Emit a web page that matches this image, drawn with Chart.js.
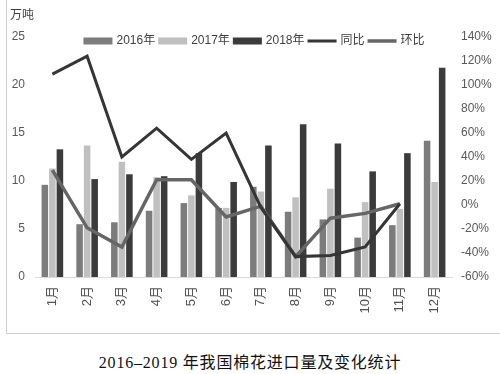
<!DOCTYPE html>
<html><head><meta charset="utf-8">
<script src="https://cdn.jsdelivr.net/npm/chart.js@4/dist/chart.umd.min.js"></script>
<style>
html,body{margin:0;padding:0;background:#fff;width:500px;height:374px;overflow:hidden;}
#wrap{position:relative;width:500px;height:374px;}
#frame{position:absolute;left:6px;top:-2px;width:500px;height:336px;border-left:1px solid #cfcfcf;border-bottom:1px solid #cfcfcf;box-sizing:border-box;}
#cv{position:absolute;left:0;top:0;}
#cap{position:absolute;left:0;top:349px;width:500px;text-align:center;font:16px "Liberation Serif","Noto Sans CJK SC";letter-spacing:0.8px;color:#111;}
</style></head>
<body><div id="wrap"><div id="frame"></div><canvas id="cv" width="500" height="340"></canvas><div id="cap">2016–2019 年我国棉花进口量及变化统计</div></div>
<script>
const categories = ['1月','2月','3月','4月','5月','6月','7月','8月','9月','10月','11月','12月'];
const imports2016 = [9.6,5.5,5.7,6.9,7.7,7.2,9.4,6.8,6.0,4.1,5.4,14.2];
const imports2017 = [11.3,13.7,12.0,10.4,8.5,7.2,8.9,8.3,9.2,7.8,7.1,9.9];
const imports2018 = [13.3,10.2,10.7,10.5,12.9,9.9,13.7,15.9,13.9,11.0,12.9,21.8];
const yoy = [109,124,40,64,38,60,-2,-43,-42,-35,1,null];
const mom = [29,-19,-35,21,21,-10,-1,-43,-11,-7,1,null];
const leftTicks = [0,5,10,15,20,25];
const rightTicks = [-60,-40,-20,0,20,40,60,80,100,120,140];
const unitLabel = '万吨';

const FONT = '"Liberation Sans","Noto Sans CJK SC",sans-serif';

const extras = {
  id:'extras',
  afterDraw(chart){
    const ctx = chart.ctx;
    ctx.save();
    ctx.font = '12px ' + FONT;
    ctx.fillStyle = '#404040';
    ctx.textBaseline = 'middle';
    ctx.textAlign = 'left';
    ctx.fillText(unitLabel, 10, 16);
    // legend
    const y = 41, boxW = 29, gapBox = 4, gapItem = 3;
    const ds = chart.data.datasets;
    let total = 0;
    ds.forEach(d => { total += boxW + gapBox + ctx.measureText(d.label).width + gapItem; });
    total -= gapItem;
    let x = 254 - total/2;
    ds.forEach(d => {
      if (d.type === 'line') {
        ctx.strokeStyle = d.borderColor; ctx.lineWidth = d.borderWidth;
        ctx.beginPath(); ctx.moveTo(x, y); ctx.lineTo(x+boxW, y); ctx.stroke();
      } else {
        ctx.fillStyle = d.backgroundColor;
        ctx.fillRect(x, y-3.5, boxW, 7);
      }
      x += boxW + gapBox;
      ctx.fillStyle = '#404040';
      ctx.fillText(d.label, x, y);
      x += ctx.measureText(d.label).width + gapItem;
    });
    ctx.restore();
  }
};

new Chart(document.getElementById('cv'), {
  data: {
    labels: categories,
    datasets: [
      {type:'bar', label:'2016年', data:imports2016, backgroundColor:'#7c7c7c', yAxisID:'y', order:1, categoryPercentage:0.65, barPercentage:0.87},
      {type:'bar', label:'2017年', data:imports2017, backgroundColor:'#c0c0c0', yAxisID:'y', order:1, categoryPercentage:0.65, barPercentage:0.87},
      {type:'bar', label:'2018年', data:imports2018, backgroundColor:'#3b3b3b', yAxisID:'y', order:1, categoryPercentage:0.65, barPercentage:0.87},
      {type:'line', label:'同比', data:yoy, borderColor:'#353535', borderWidth:3, pointRadius:0, yAxisID:'y1', order:0, tension:0},
      {type:'line', label:'环比', data:mom, borderColor:'#666666', borderWidth:3.5, pointRadius:0, yAxisID:'y1', order:0, tension:0}
    ]
  },
  options: {
    responsive:false, animation:false, devicePixelRatio:1,
    layout:{padding:{top:37,left:0,right:0,bottom:0}},
    plugins:{legend:{display:false}, tooltip:{enabled:false}},
    scales:{
      x:{
        grid:{display:false, drawTicks:false},
        border:{display:true, color:'#d9d9d9', width:1},
        ticks:{minRotation:90, maxRotation:90, autoSkip:false, padding:9, color:'#505050', font:{size:13, family:FONT}},
        afterFit(s){ s.height = 63; }
      },
      y:{
        position:'left', min:0, max:25,
        grid:{display:false, drawTicks:false}, border:{display:false},
        afterBuildTicks(s){ s.ticks = leftTicks.map(v=>({value:v})); },
        ticks:{padding:10, color:'#595959', font:{size:12, family:FONT}},
        afterFit(s){ s.width = 35; }
      },
      y1:{
        position:'right', min:-60, max:140,
        grid:{display:false, drawTicks:false}, border:{display:false},
        afterBuildTicks(s){ s.ticks = rightTicks.map(v=>({value:v})); },
        ticks:{padding:9, color:'#595959', font:{size:12, family:FONT}, callback:v=>v+'%'},
        afterFit(s){ s.width = 48; }
      }
    }
  },
  plugins:[extras]
});
</script></body></html>
